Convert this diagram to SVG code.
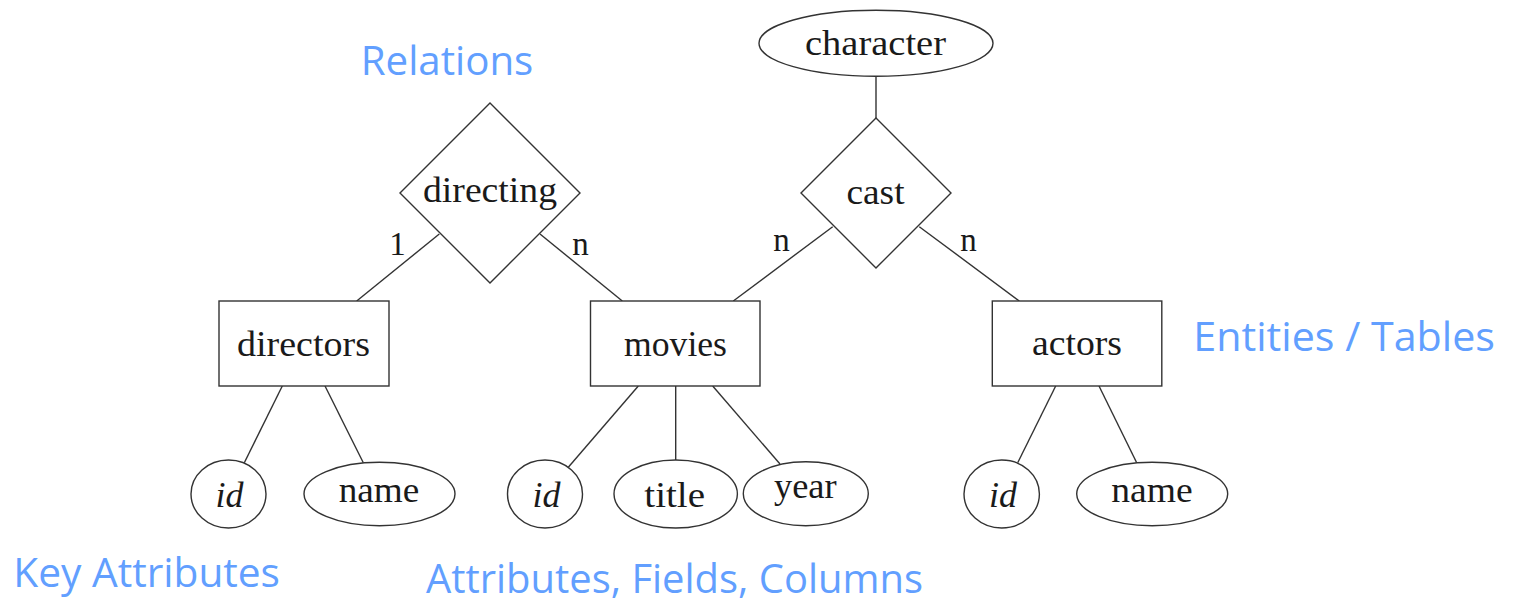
<svg xmlns="http://www.w3.org/2000/svg" width="1513" height="603" viewBox="0 0 1513 603">
  <style>
    .shape { fill: #ffffff; stroke: #333333; stroke-width: 1.4; }
    .edge { stroke: #333333; stroke-width: 1.4; fill: none; }
    .lbl { font-family: "Liberation Serif", "DejaVu Serif", serif; font-size: 35px; fill: #1a1a1a; text-anchor: middle; }
    .key { font-style: italic; }
    .card { font-family: "Liberation Serif", "DejaVu Serif", serif; font-size: 33px; fill: #1a1a1a; text-anchor: middle; }
    .note { font-family: "Open Sans", "Noto Sans", sans-serif; font-size: 40px; fill: #629fff; }
  </style>

  <rect width="1513" height="603" fill="#ffffff"/>

  <!-- connectors -->
  <g id="connectors">
    <line class="edge" x1="356.7" y1="301" x2="439.3" y2="234"/>
    <line class="edge" x1="540" y1="234" x2="622.3" y2="301"/>
    <line class="edge" x1="832.7" y1="226.7" x2="733.3" y2="301"/>
    <line class="edge" x1="919.3" y1="226.7" x2="1019.3" y2="301"/>
    <line class="edge" x1="876" y1="76" x2="876" y2="118"/>
    <line class="edge" x1="282.3" y1="386" x2="244.3" y2="462.7"/>
    <line class="edge" x1="325" y1="386" x2="363.3" y2="462.7"/>
    <line class="edge" x1="638.3" y1="386" x2="568.3" y2="467.3"/>
    <line class="edge" x1="675.7" y1="386" x2="675.7" y2="460"/>
    <line class="edge" x1="712.7" y1="386" x2="780" y2="464"/>
    <line class="edge" x1="1055.7" y1="386" x2="1017.7" y2="462.7"/>
    <line class="edge" x1="1099" y1="386" x2="1136.7" y2="462.7"/>
    <!-- cardinalities -->
    <text class="card" x="397.5" y="255">1</text>
    <text class="card" x="580.5" y="255">n</text>
    <text class="card" x="781.5" y="251">n</text>
    <text class="card" x="968.5" y="251">n</text>
  </g>

  <!-- relations -->
  <g id="rel-directing">
    <polygon class="shape" points="490,103 580,193 490,283 400,193"/>
    <text class="lbl" x="490" y="201.7" textLength="134" lengthAdjust="spacingAndGlyphs">directing</text>
  </g>
  <g id="rel-cast">
    <polygon class="shape" points="876,118 951,193 876,268 801,193"/>
    <text class="lbl" x="875.5" y="204.3" textLength="58" lengthAdjust="spacingAndGlyphs">cast</text>
  </g>

  <!-- relation attribute -->
  <g id="attr-character">
    <ellipse class="shape" cx="876" cy="43.3" rx="117" ry="33"/>
    <text class="lbl" x="875.5" y="55" textLength="141" lengthAdjust="spacingAndGlyphs">character</text>
  </g>

  <!-- entities -->
  <g id="ent-directors">
    <rect class="shape" x="219" y="301" width="170" height="85"/>
    <text class="lbl" x="303.5" y="356" textLength="133" lengthAdjust="spacingAndGlyphs">directors</text>
  </g>
  <g id="ent-movies">
    <rect class="shape" x="590.5" y="301" width="169.5" height="85"/>
    <text class="lbl" x="675.5" y="356" textLength="103" lengthAdjust="spacingAndGlyphs">movies</text>
  </g>
  <g id="ent-actors">
    <rect class="shape" x="992.3" y="301" width="169.5" height="85"/>
    <text class="lbl" x="1077" y="355" textLength="90" lengthAdjust="spacingAndGlyphs">actors</text>
  </g>

  <!-- attributes -->
  <g id="attr-directors-id">
    <ellipse class="shape" cx="228.5" cy="494" rx="37.5" ry="34"/>
    <text class="lbl key" x="229.5" y="506.7" textLength="28" lengthAdjust="spacingAndGlyphs">id</text>
  </g>
  <g id="attr-directors-name">
    <ellipse class="shape" cx="379.5" cy="494" rx="75.5" ry="31.7"/>
    <text class="lbl" x="379" y="501.7" textLength="80.6" lengthAdjust="spacingAndGlyphs">name</text>
  </g>
  <g id="attr-movies-id">
    <ellipse class="shape" cx="545" cy="494" rx="37.5" ry="34"/>
    <text class="lbl key" x="546.5" y="506.7" textLength="28" lengthAdjust="spacingAndGlyphs">id</text>
  </g>
  <g id="attr-movies-title">
    <ellipse class="shape" cx="675.7" cy="494" rx="61.7" ry="34"/>
    <text class="lbl" x="674.7" y="506.7" textLength="60.7" lengthAdjust="spacingAndGlyphs">title</text>
  </g>
  <g id="attr-movies-year">
    <ellipse class="shape" cx="805.8" cy="493.7" rx="62.5" ry="32"/>
    <text class="lbl" x="805.3" y="498.3" textLength="62.7" lengthAdjust="spacingAndGlyphs">year</text>
  </g>
  <g id="attr-actors-id">
    <ellipse class="shape" cx="1001.7" cy="494" rx="37.7" ry="34"/>
    <text class="lbl key" x="1003" y="506.7" textLength="28" lengthAdjust="spacingAndGlyphs">id</text>
  </g>
  <g id="attr-actors-name">
    <ellipse class="shape" cx="1152.2" cy="494" rx="75.5" ry="31.7"/>
    <text class="lbl" x="1152" y="501.7" textLength="81.4" lengthAdjust="spacingAndGlyphs">name</text>
  </g>

  <!-- callout captions -->
  <g id="captions">
    <text class="note" x="360.7" y="75" textLength="172.6" lengthAdjust="spacingAndGlyphs">Relations</text>
    <text class="note" x="1193.3" y="350.7" textLength="301.7" lengthAdjust="spacingAndGlyphs">Entities / Tables</text>
    <text class="note" x="13.3" y="586.7" textLength="266.7" lengthAdjust="spacingAndGlyphs">Key Attributes</text>
    <text class="note" x="426" y="593" textLength="497" lengthAdjust="spacingAndGlyphs">Attributes, Fields, Columns</text>
  </g>
</svg>
